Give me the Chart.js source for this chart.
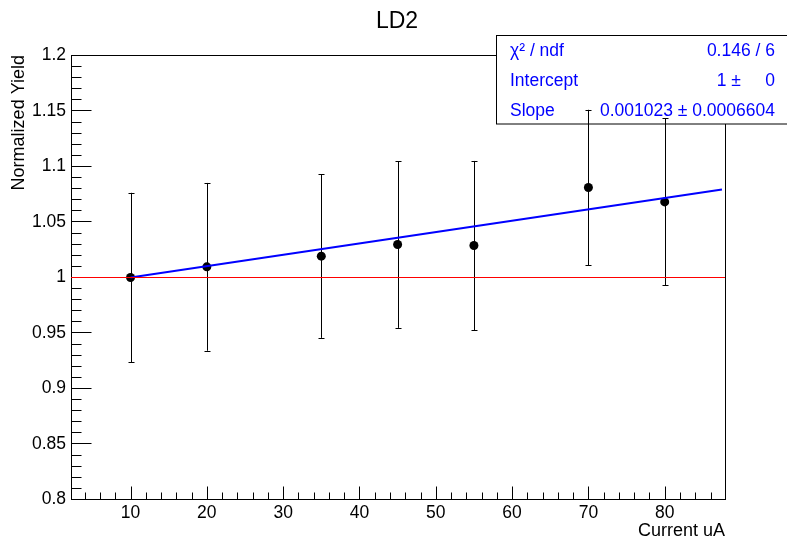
<!DOCTYPE html>
<html>
<head>
<meta charset="utf-8">
<script src="https://cdn.jsdelivr.net/npm/chart.js@4.4.0/dist/chart.umd.min.js"></script>
<style>
  html, body { margin: 0; padding: 0; background: #fff; }
  canvas { display: block; }
</style>
</head>
<body>
<canvas id="ld2Chart" width="787" height="539"></canvas>
<script>
// data
const currents = [10, 20, 35, 45, 55, 70, 80];
const yields = [1.000, 1.0096, 1.0192, 1.0297, 1.0288, 1.0811, 1.0681];
const yieldErrors = [0.0763, 0.0756, 0.0736, 0.0751, 0.0762, 0.0700, 0.0753];

// fitted line and the reference level at 1
const fitX = [10, 87.5];
const fitY = [1.000, 1.0793];
const refX = [2.2, 87.9];
const refY = [1, 1];

const xTicks = [10, 20, 30, 40, 50, 60, 70, 80];
const xTickLabels = ['10', '20', '30', '40', '50', '60', '70', '80'];
const yTicks = [0.8, 0.85, 0.9, 0.95, 1, 1.05, 1.1, 1.15, 1.2];
const yTickLabels = ['0.8', '0.85', '0.9', '0.95', '1', '1.05', '1.1', '1.15', '1.2'];

const statNames = ['χ² / ndf', 'Intercept', 'Slope'];
const statValues = ['0.146 / 6', '1 ±     0', '0.001023 ± 0.0006604'];

const FONT = '"Liberation Sans", Arial, Helvetica, sans-serif';
const BLUE = '#0000ff';

const rootStyle = {
    id: 'rootStyle',
    beforeDatasetsDraw(chart) {
        const { ctx, chartArea: a, scales: { x, y } } = chart;
        const left = Math.round(a.left) + 0.5, right = Math.round(a.right) + 0.5;
        const top = Math.floor(a.top) + 0.5, bottom = Math.floor(a.bottom) + 0.5;
        ctx.save();
        ctx.strokeStyle = '#000';
        ctx.lineWidth = 1;
        ctx.strokeRect(left, top, right - left, bottom - top);

        // inward ticks, ROOT style
        ctx.beginPath();
        for (let i = 0; i <= 40; i++) {
            const py = Math.floor(y.getPixelForValue(0.8 + i * 0.01)) + 0.5;
            const len = i % 5 === 0 ? 20 : 10;
            ctx.moveTo(left, py);
            ctx.lineTo(left + len, py);
        }
        for (let v = 4; v <= 86; v += 2) {
            const px = Math.round(x.getPixelForValue(v)) + 0.5;
            const len = v % 10 === 0 ? 13 : 7;
            ctx.moveTo(px, bottom);
            ctx.lineTo(px, bottom - len);
        }
        ctx.stroke();

        // stats box
        ctx.fillStyle = '#fff';
        ctx.fillRect(496, 36, 300, 88);
        ctx.strokeRect(496.5, 35.5, 300, 88.5);
        ctx.fillStyle = BLUE;
        ctx.font = '17.5px ' + FONT;
        ctx.textBaseline = 'alphabetic';
        statNames.forEach((name, i) => {
            const by = 56 + i * 30;
            ctx.textAlign = 'left';
            ctx.fillText(name, 510, by);
            ctx.textAlign = 'right';
            ctx.fillText(statValues[i], 775, by);
        });

        // error bars
        ctx.strokeStyle = '#000';
        ctx.beginPath();
        currents.forEach((c, i) => {
            const px = Math.round(x.getPixelForValue(c)) + 0.5;
            const t = y.getPixelForValue(yields[i] + yieldErrors[i]);
            const b = y.getPixelForValue(yields[i] - yieldErrors[i]);
            ctx.moveTo(px, t);
            ctx.lineTo(px, b);
            ctx.moveTo(px - 3, Math.round(t) + 0.5);
            ctx.lineTo(px + 3, Math.round(t) + 0.5);
            ctx.moveTo(px - 3, Math.round(b) + 0.5);
            ctx.lineTo(px + 3, Math.round(b) + 0.5);
        });
        ctx.stroke();
        ctx.restore();
    },
    afterDraw(chart) {
        const { ctx } = chart;
        ctx.save();
        ctx.fillStyle = '#000';
        ctx.textBaseline = 'alphabetic';
        ctx.font = '23px ' + FONT;
        ctx.textAlign = 'center';
        ctx.fillText('LD2', 397, 28);

        ctx.font = '18px ' + FONT;
        ctx.textAlign = 'right';
        ctx.fillText('Current uA', 725, 536);

        ctx.translate(24, 55);
        ctx.rotate(-Math.PI / 2);
        ctx.fillText('Normalized Yield', 0, 0);
        ctx.restore();
    }
};

new Chart(document.getElementById('ld2Chart'), {
    type: 'scatter',
    data: {
        datasets: [
            {
                type: 'line',
                data: refX.map((v, i) => ({ x: v, y: refY[i] })),
                borderColor: '#ff0000',
                borderWidth: 1,
                pointRadius: 0
            },
            {
                type: 'line',
                data: fitX.map((v, i) => ({ x: v, y: fitY[i] })),
                borderColor: BLUE,
                borderWidth: 2,
                pointRadius: 0
            },
            {
                data: currents.map((c, i) => ({ x: c, y: yields[i] })),
                pointRadius: 4.5,
                pointBackgroundColor: '#000',
                pointBorderWidth: 0
            }
        ]
    },
    options: {
        responsive: false,
        animation: false,
        layout: { padding: { left: 0, top: 55.5, right: 62, bottom: 0 } },
        plugins: { legend: { display: false }, tooltip: { enabled: false } },
        scales: {
            x: {
                type: 'linear',
                min: 2.2,
                max: 87.9,
                afterBuildTicks: s => { s.ticks = xTicks.map(v => ({ value: v })); },
                afterFit: s => { s.height = 39.5; },
                grid: { display: false, drawTicks: false },
                border: { display: false },
                ticks: {
                    color: '#000',
                    font: { family: FONT, size: 17.5 },
                    padding: 3,
                    maxRotation: 0,
                    autoSkip: false,
                    callback: (v, i) => xTickLabels[i]
                }
            },
            y: {
                min: 0.8,
                max: 1.2,
                afterBuildTicks: s => { s.ticks = yTicks.map(v => ({ value: v })); },
                afterFit: s => { s.width = 71; },
                grid: { display: false, drawTicks: false },
                border: { display: false },
                ticks: {
                    color: '#000',
                    font: { family: FONT, size: 17.5 },
                    padding: 5,
                    autoSkip: false,
                    callback: (v, i) => yTickLabels[i]
                }
            }
        }
    },
    plugins: [rootStyle]
});
</script>
</body>
</html>
